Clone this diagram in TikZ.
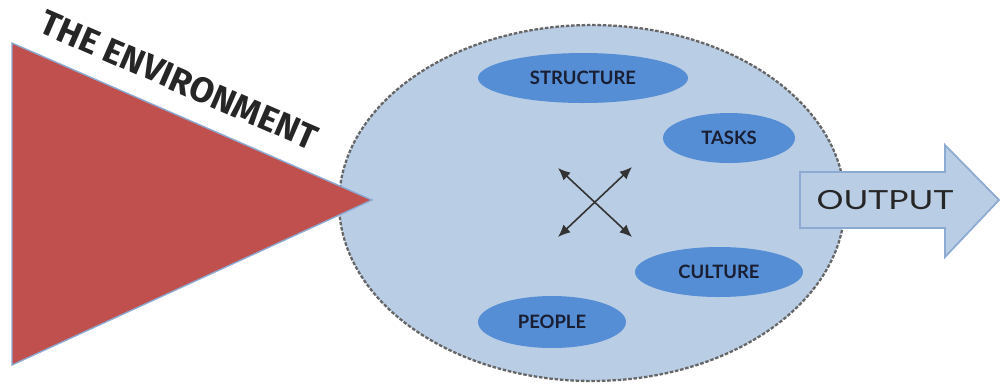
\documentclass[tikz,border=0pt]{standalone}
\usepackage{fontspec}
\setmainfont{Lato}
\newfontfamily\envfont{Fira Sans}
\usetikzlibrary{shapes.geometric,arrows.meta}
\definecolor{envred}{RGB}{192,80,77}
\definecolor{palebl}{RGB}{185,205,229}
\definecolor{midbl}{RGB}{85,142,213}
\definecolor{edgebl}{RGB}{140,170,210}
\definecolor{labtxt}{RGB}{25,30,50}
\tikzset{
  inner/.style={ellipse, fill=midbl, draw=none, inner sep=0pt, text=labtxt, font=\bfseries\fontsize{10.5}{12}\selectfont},
  cross/.style={draw=black!80, line width=0.9pt, {Latex[length=7pt,width=6pt]}-{Latex[length=7pt,width=6pt]}}
}
\begin{document}
\begin{tikzpicture}[x=0.02cm,y=-0.02cm]
\useasboundingbox (0,0) rectangle (1000,387);
% big organisation ellipse
\node (org) [ellipse, fill=palebl, draw=black!60, dashed, dash pattern=on 2pt off 1pt, line width=1.3pt,
  minimum width=10.12cm, minimum height=7.12cm] at (592,203) {};
% inner ellipses
\node (structure) [inner, minimum width=4.2cm, minimum height=1.0cm] at (583,78) {STRUCTURE};
\node (tasks) [inner, minimum width=2.64cm, minimum height=1.0cm] at (729,138) {TASKS};
\node (culture) [inner, minimum width=3.36cm, minimum height=1.0cm] at (719,272) {CULTURE};
\node (people) [inner, minimum width=2.96cm, minimum height=1.04cm] at (552,322) {PEOPLE};
% cross arrows
\coordinate (tl) at (558,168);
\coordinate (br) at (632,237);
\coordinate (tr) at (632,167);
\coordinate (bl) at (558,237);
\draw[cross] (tl) -- (br);
\draw[cross] (bl) -- (tr);
% environment triangle
\coordinate (e1) at (12,43);
\coordinate (e2) at (12,365);
\coordinate (e3) at (372,200);
\fill[envred, draw=edgebl, line width=0.8pt] (e1) -- (e3) -- (e2) -- cycle;
\node (envlabel) [rotate=-23.5, font=\envfont\bfseries\fontsize{20}{24}\selectfont, text=black!85] at (179,80) {THE ENVIRONMENT};
% output arrow
\draw[fill=palebl, draw=edgebl, line width=1pt]
  (800,172) -- (945,172) -- (945,145) -- (999,200) -- (945,257) -- (945,228) -- (800,228) -- cycle;
\node (output) [xscale=1.28, font=\fontsize{15}{18}\selectfont, text=black!85] at (885,200) {OUTPUT};
\end{tikzpicture}
\end{document}
